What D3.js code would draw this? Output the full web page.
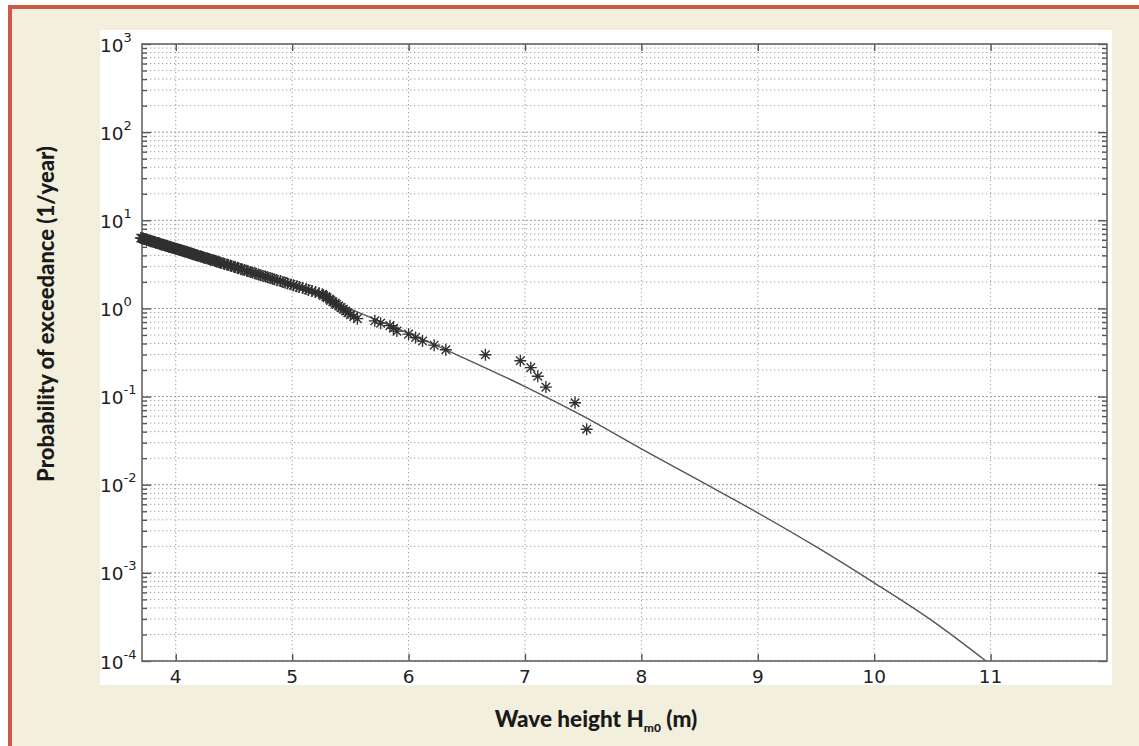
<!DOCTYPE html>
<html><head><meta charset="utf-8">
<script src="https://cdn.jsdelivr.net/npm/d3@7"></script>
<style>body{margin:0;background:#ffffff;} svg{display:block}</style>
</head><body><svg id="c" width="1139" height="746"></svg>
<script>
// Observed storms: wave height Hm0 (m), ranked from largest
const waveHeights = [7.53,7.43,7.18,7.11,7.05,6.96,6.66,6.32,6.22,6.12,6.06,6.00,5.90,5.87,5.84,5.76,5.71,5.56,5.53,5.50,
 5.48,5.46,5.44,5.42,5.40,5.38,5.37,5.35,5.33,5.32,5.30,5.29,5.27,5.26,5.23,5.20,5.17,5.14,5.12,5.09,
 5.06,5.04,5.01,4.99,4.96,4.94,4.92,4.90,4.87,4.85,4.83,4.81,4.79,4.77,4.75,4.73,4.71,4.69,4.68,4.66,
 4.64,4.62,4.61,4.59,4.57,4.56,4.54,4.53,4.51,4.50,4.48,4.47,4.45,4.44,4.42,4.41,4.39,4.38,4.37,4.35,
 4.34,4.33,4.32,4.30,4.29,4.28,4.27,4.25,4.24,4.23,4.22,4.21,4.19,4.18,4.17,4.16,4.15,4.14,4.13,4.12,
 4.11,4.10,4.09,4.08,4.07,4.06,4.05,4.04,4.03,4.02,4.01,4.00,3.99,3.98,3.97,3.96,3.95,3.94,3.93,3.92,
 3.92,3.91,3.90,3.89,3.88,3.87,3.86,3.86,3.85,3.84,3.83,3.82,3.82,3.81,3.80,3.79,3.78,3.78,3.77,3.76,
 3.75,3.75,3.74,3.73,3.72,3.72,3.71,3.70];
// Probability of exceedance (1/year) of each observed storm
const exceedance = [0.0426,0.0851,0.128,0.170,0.213,0.255,0.298,0.340,0.383,0.426,0.468,0.511,0.553,0.596,0.638,0.681,0.723,0.766,0.809,0.851,
 0.894,0.936,0.979,1.021,1.064,1.106,1.149,1.191,1.234,1.277,1.319,1.362,1.404,1.447,1.489,1.532,1.574,1.617,1.660,1.702,
 1.745,1.787,1.830,1.872,1.915,1.957,2.000,2.043,2.085,2.128,2.170,2.213,2.255,2.298,2.340,2.383,2.426,2.468,2.511,2.553,
 2.596,2.638,2.681,2.723,2.766,2.809,2.851,2.894,2.936,2.979,3.021,3.064,3.106,3.149,3.191,3.234,3.277,3.319,3.362,3.404,
 3.447,3.489,3.532,3.574,3.617,3.660,3.702,3.745,3.787,3.830,3.872,3.915,3.957,4.000,4.043,4.085,4.128,4.170,4.213,4.255,
 4.298,4.340,4.383,4.426,4.468,4.511,4.553,4.596,4.638,4.681,4.723,4.766,4.809,4.851,4.894,4.936,4.979,5.021,5.064,5.106,
 5.149,5.191,5.234,5.277,5.319,5.362,5.404,5.447,5.489,5.532,5.574,5.617,5.660,5.702,5.745,5.787,5.830,5.872,5.915,5.957,
 6.000,6.043,6.085,6.128,6.170,6.213,6.255,6.298];
// Fitted extreme value distribution
const fitHeights =    [3.70, 4.00, 4.50, 5.00, 5.50, 6.00, 6.50, 7.00, 7.50, 8.00, 8.50, 9.00, 9.50, 10.00, 10.50, 10.96];
const fitExceedance = [6.4, 4.9, 3.0, 1.78, 0.98, 0.52, 0.265, 0.13, 0.060, 0.0255, 0.0111, 0.0048, 0.00198, 0.00077, 0.000285, 0.0001];
const xTickValues = [4,5,6,7,8,9,10,11];
const yDecadeExponents = [-4,-3,-2,-1,0,1,2,3];
const xLabel = "Wave height H", xLabelSub = "m0", xLabelEnd = " (m)";
const yLabel = "Probability of exceedance (1/year)";

const svg = d3.select("#c");
// frame / backgrounds
svg.append("rect").attr("x",8).attr("y",5).attr("width",1200).attr("height",800).attr("fill","#f2efdc");
svg.append("rect").attr("x",8).attr("y",5).attr("width",1200).attr("height",4).attr("fill","#cc5a48");
svg.append("rect").attr("x",8).attr("y",5).attr("width",4).attr("height",800).attr("fill","#cc5a48");
svg.append("rect").attr("x",100).attr("y",30).attr("width",1012).attr("height",655).attr("fill","#ffffff");

const L=142, R=1107, T=44, B=661;
const x = d3.scaleLinear().domain([3.71,12]).range([L,R]);
const y = d3.scaleLog().domain([1e-4,1e3]).range([B,T]);

const majorVals = yDecadeExponents.map(e=>Math.pow(10,e));
const minorVals = [];
yDecadeExponents.slice(0,-1).forEach(e=>{ for(let m=2;m<=9;m++) minorVals.push(m*Math.pow(10,e)); });

const grid = svg.append("g");
grid.selectAll("line.hm").data(minorVals).join("line")
  .attr("x1",L).attr("x2",R).attr("y1",d=>y(d)).attr("y2",d=>y(d))
  .attr("stroke","#a0a0a0").attr("stroke-width",1).attr("stroke-dasharray","1.3,2.7");
grid.selectAll("line.hM").data(majorVals).join("line")
  .attr("x1",L).attr("x2",R).attr("y1",d=>y(d)).attr("y2",d=>y(d))
  .attr("stroke","#999").attr("stroke-width",1).attr("stroke-dasharray","2,2");
grid.selectAll("line.v").data(xTickValues).join("line")
  .attr("x1",d=>x(d)).attr("x2",d=>x(d)).attr("y1",T).attr("y2",B)
  .attr("stroke","#a0a0a0").attr("stroke-width",1).attr("stroke-dasharray","1.3,2.7");

// axes ticks (inward)
function styleAxis(g){ g.select(".domain").remove(); g.selectAll("line").attr("stroke","#555").attr("stroke-width",1.4); g.selectAll("text").remove(); }
svg.append("g").attr("transform",`translate(0,${B})`).call(d3.axisBottom(x).tickValues(xTickValues).tickSize(-7).tickFormat("")).call(styleAxis);
svg.append("g").attr("transform",`translate(0,${T})`).call(d3.axisTop(x).tickValues(xTickValues).tickSize(-7).tickFormat("")).call(styleAxis);
svg.append("g").attr("transform",`translate(${L},0)`).call(d3.axisLeft(y).tickValues(majorVals).tickSize(-9).tickFormat("")).call(styleAxis);
svg.append("g").attr("transform",`translate(${L},0)`).call(d3.axisLeft(y).tickValues(minorVals).tickSize(-5).tickFormat("")).call(styleAxis);
svg.append("g").attr("transform",`translate(${R},0)`).call(d3.axisRight(y).tickValues(majorVals).tickSize(-9).tickFormat("")).call(styleAxis);
svg.append("g").attr("transform",`translate(${R},0)`).call(d3.axisRight(y).tickValues(minorVals).tickSize(-5).tickFormat("")).call(styleAxis);

svg.append("rect").attr("x",L).attr("y",T).attr("width",R-L).attr("height",B-T)
  .attr("fill","none").attr("stroke","#666").attr("stroke-width",1.6);

// tick labels
const tf = "DejaVu Sans, Liberation Sans, Arial, sans-serif";
svg.append("g").selectAll("text").data(xTickValues).join("text")
  .attr("x",d=>x(d)).attr("y",B+21.5).attr("text-anchor","middle")
  .attr("font-family",tf).attr("font-size",18.5).attr("fill","#222").text(d=>d);
const yl = svg.append("g").selectAll("text").data(yDecadeExponents).join("text")
  .attr("x",100).attr("y",d=>y(Math.pow(10,d))+7.5)
  .attr("font-family",tf).attr("font-size",18.5).attr("fill","#222");
yl.append("tspan").text("10");
yl.append("tspan").attr("dy",-10).attr("font-size",13).text(d=>String(d));

// fitted line
const fitPts = fitHeights.map((h,i)=>[h,fitExceedance[i]]);
svg.append("path").datum(fitPts)
  .attr("d",d3.line().x(d=>x(d[0])).y(d=>y(d[1])).curve(d3.curveMonotoneX))
  .attr("fill","none").attr("stroke","#555").attr("stroke-width",1.4);

// star markers
const r=6, q=4.3;
const star = `M${-r},0H${r}M0,${-r}V${r}M${-q},${-q}L${q},${q}M${-q},${q}L${q},${-q}`;
svg.append("g").selectAll("path").data(waveHeights.map((h,i)=>[h,exceedance[i]])).join("path")
  .attr("transform",d=>`translate(${x(d[0])},${y(d[1])})`)
  .attr("d",star).attr("fill","none").attr("stroke","#303030").attr("stroke-width",1.35);

// axis labels
const lf = "Lato, 'Open Sans', sans-serif";
const xt = svg.append("text").attr("x",596).attr("y",727).attr("text-anchor","middle")
  .attr("font-family",lf).attr("font-weight","900").attr("font-size",22.5).attr("fill","#1a1a1a");
xt.append("tspan").text(xLabel);
xt.append("tspan").attr("dy",5).attr("font-size",12).text(xLabelSub);
xt.append("tspan").attr("dy",-5).text(xLabelEnd);
svg.append("text").attr("transform","translate(54,314) rotate(-90)").attr("text-anchor","middle")
  .attr("font-family",lf).attr("font-weight","900").attr("font-size",22).attr("fill","#1a1a1a").text(yLabel);
</script></body></html>
